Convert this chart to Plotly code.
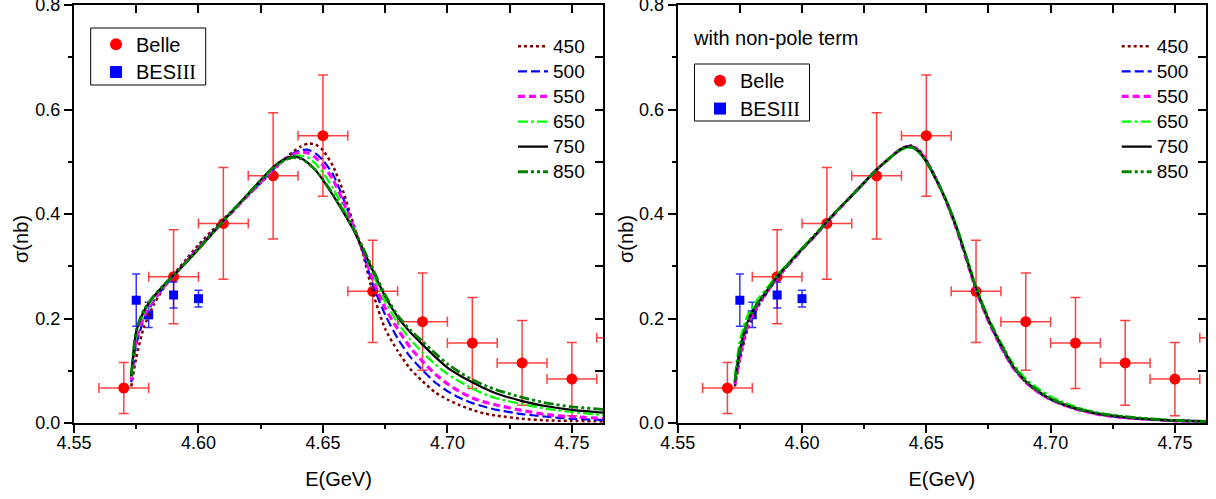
import plotly.graph_objects as go

# ---------------- data ----------------
belle_E = [4.57, 4.59, 4.61, 4.63, 4.65, 4.67, 4.69, 4.71, 4.73, 4.75, 4.77]
belle_sigma = [0.067, 0.280, 0.382, 0.473, 0.550, 0.252, 0.194, 0.153, 0.115, 0.084, 0.163]
belle_err = [0.049, 0.090, 0.107, 0.121, 0.116, 0.098, 0.093, 0.087, 0.081, 0.070, 0.090]
belle_Eerr = [0.01] * 11

bes_E = [4.575, 4.580, 4.590, 4.600]
bes_sigma = [0.235, 0.207, 0.245, 0.238]
bes_err = [0.050, 0.024, 0.025, 0.016]

E = [4.573, 4.575, 4.578, 4.582, 4.586, 4.590, 4.595, 4.600, 4.605, 4.610,
     4.615, 4.620, 4.625, 4.630, 4.635, 4.638, 4.641, 4.644, 4.647, 4.650,
     4.654, 4.658, 4.662, 4.666, 4.670, 4.675, 4.680, 4.685, 4.690, 4.695,
     4.700, 4.705, 4.710, 4.715, 4.720, 4.730, 4.740, 4.750, 4.7625]

labels = ["450", "500", "550", "650", "750", "850"]

# left panel (pole terms only)
L450 = [0.070, 0.125, 0.182, 0.226, 0.258, 0.284, 0.313, 0.341, 0.366, 0.390, 0.413, 0.436, 0.459, 0.484, 0.506, 0.519, 0.529, 0.535,
        0.533, 0.522, 0.492, 0.445, 0.385, 0.325, 0.250,
        0.180, 0.138, 0.104, 0.080, 0.059, 0.045, 0.034, 0.025, 0.018, 0.014, 0.008, 0.005, 0.004, 0.003]
L500 = [0.078, 0.150, 0.197, 0.233, 0.259, 0.282, 0.309, 0.336, 0.362, 0.387, 0.412, 0.436, 0.460, 0.485, 0.506, 0.516, 0.522, 0.523,
        0.516, 0.503, 0.476, 0.432, 0.380, 0.328, 0.265,
        0.207, 0.162, 0.127, 0.101, 0.078, 0.061, 0.048, 0.038, 0.031, 0.025, 0.017, 0.012, 0.008, 0.006]
L550 = [0.082, 0.160, 0.203, 0.236, 0.260, 0.282, 0.308, 0.334, 0.360, 0.386, 0.411, 0.436, 0.461, 0.486, 0.506, 0.514, 0.518, 0.517,
        0.508, 0.493, 0.466, 0.425, 0.378, 0.330, 0.275,
        0.220, 0.180, 0.145, 0.118, 0.094, 0.075, 0.060, 0.048, 0.040, 0.034, 0.024, 0.016, 0.012, 0.009]
L650 = [0.088, 0.170, 0.210, 0.240, 0.262, 0.283, 0.307, 0.333, 0.360, 0.386, 0.412, 0.438, 0.463, 0.488, 0.505, 0.511, 0.512, 0.508,
        0.496, 0.479, 0.450, 0.413, 0.375, 0.333, 0.287,
        0.232, 0.192, 0.160, 0.135, 0.113, 0.094, 0.079, 0.066, 0.055, 0.047, 0.036, 0.027, 0.021, 0.015]
L750 = [0.090, 0.175, 0.214, 0.242, 0.263, 0.283, 0.307, 0.333, 0.360, 0.387, 0.413, 0.439, 0.465, 0.490, 0.506, 0.510, 0.507, 0.498,
        0.484, 0.465, 0.436, 0.405, 0.372, 0.333, 0.292,
        0.242, 0.203, 0.174, 0.150, 0.127, 0.106, 0.091, 0.078, 0.066, 0.056, 0.042, 0.032, 0.025, 0.020]
L850 = [0.092, 0.178, 0.216, 0.243, 0.264, 0.283, 0.307, 0.333, 0.360, 0.387, 0.413, 0.439, 0.465, 0.489, 0.504, 0.508, 0.506, 0.497,
        0.484, 0.466, 0.438, 0.407, 0.374, 0.336, 0.295,
        0.245, 0.206, 0.178, 0.156, 0.134, 0.113, 0.097, 0.083, 0.072, 0.063, 0.049, 0.038, 0.031, 0.026]

# right panel (with non-pole term)
R450 = [0.070, 0.120, 0.178, 0.220, 0.250, 0.277, 0.306, 0.334, 0.360, 0.386, 0.411, 0.436, 0.460, 0.485, 0.506, 0.519, 0.528, 0.531,
        0.523, 0.504, 0.468, 0.426, 0.376, 0.317, 0.256,
        0.196, 0.147, 0.106, 0.078, 0.059, 0.045, 0.035, 0.027, 0.021, 0.016, 0.010, 0.007, 0.004, 0.003]
R500 = [0.073, 0.128, 0.184, 0.223, 0.251, 0.278, 0.305, 0.332, 0.357, 0.384, 0.410, 0.435, 0.460, 0.485, 0.506, 0.518, 0.527, 0.530,
        0.521, 0.502, 0.467, 0.425, 0.375, 0.316, 0.256,
        0.196, 0.147, 0.106, 0.078, 0.059, 0.045, 0.035, 0.027, 0.021, 0.016, 0.010, 0.007, 0.004, 0.003]
R550 = [0.074, 0.130, 0.186, 0.224, 0.252, 0.278, 0.305, 0.332, 0.357, 0.384, 0.410, 0.435, 0.460, 0.485, 0.506, 0.518, 0.527, 0.530,
        0.521, 0.502, 0.466, 0.424, 0.374, 0.315, 0.255,
        0.195, 0.146, 0.105, 0.078, 0.059, 0.045, 0.035, 0.027, 0.021, 0.016, 0.010, 0.007, 0.004, 0.003]
R650 = [0.090, 0.158, 0.205, 0.236, 0.259, 0.283, 0.309, 0.335, 0.360, 0.386, 0.411, 0.435, 0.460, 0.485, 0.505, 0.517, 0.525, 0.527,
        0.518, 0.500, 0.466, 0.427, 0.379, 0.322, 0.262,
        0.202, 0.154, 0.113, 0.085, 0.066, 0.051, 0.040, 0.031, 0.024, 0.019, 0.012, 0.008, 0.005, 0.003]
R750 = [0.078, 0.140, 0.192, 0.228, 0.254, 0.280, 0.307, 0.333, 0.358, 0.385, 0.411, 0.435, 0.460, 0.485, 0.506, 0.518, 0.527, 0.529,
        0.519, 0.500, 0.465, 0.425, 0.376, 0.318, 0.258,
        0.198, 0.150, 0.108, 0.080, 0.061, 0.046, 0.036, 0.028, 0.022, 0.017, 0.011, 0.007, 0.005, 0.003]
R850 = [0.080, 0.143, 0.194, 0.229, 0.255, 0.280, 0.307, 0.333, 0.358, 0.385, 0.411, 0.435, 0.460, 0.485, 0.506, 0.518, 0.526, 0.528,
        0.519, 0.500, 0.466, 0.426, 0.377, 0.319, 0.259,
        0.199, 0.151, 0.109, 0.081, 0.062, 0.047, 0.037, 0.029, 0.023, 0.018, 0.012, 0.008, 0.005, 0.003]

left_curves = [L450, L500, L550, L650, L750, L850]
right_curves = [R450, R500, R550, R650, R750, R850]

# ---------------- styles ----------------
curve_styles = [
    dict(color="#800000", width=2.5, dash="3px,3px"),
    dict(color="#0000FF", width=2.2, dash="9px,4px"),
    dict(color="#FF00FF", width=3.2, dash="7px,4px"),
    dict(color="#00FF00", width=2.2, dash="10px,3px,3px,3px"),
    dict(color="#000000", width=2.2, dash="solid"),
    dict(color="#008000", width=2.8, dash="10px,3px,3px,3px,3px,3px"),
]
FONT = "Liberation Sans, Arial, sans-serif"
SERIF = "Liberation Serif, Times New Roman, serif"
XR = [4.55, 4.7625]
YR = [0.0, 0.8]

W, H = 1216, 499
ML, MR, MT, MB = 74, 10, 5, 76
PW = W - ML - MR
PH = H - MT - MB
d1 = [0.0, (603 - ML) / PW]
d2 = [(677.7 - ML) / PW, 1.0]


def px_x(p):
    return (p - ML) / PW


def px_y(p):
    return (H - MB - p) / PH


fig = go.Figure()

panels = [("x", "y", "x3", "y3", "legend", "legend2", left_curves),
          ("x2", "y2", "x4", "y4", "legend3", "legend4", right_curves)]

for xa, ya, xt, yr, lg_pts, lg_lines, curves in panels:
    fig.add_trace(go.Scatter(
        x=belle_E, y=belle_sigma, mode="markers",
        name="<span style='font-size:20px'>Belle</span>",
        xaxis=xa, yaxis=ya, legend=lg_pts,
        marker=dict(symbol="circle", size=11, color="#FF0000"),
        error_y=dict(type="data", array=belle_err, color="rgba(255,0,0,0.75)", thickness=1.5, width=5),
        error_x=dict(type="data", array=belle_Eerr, color="rgba(255,0,0,0.75)", thickness=1.5, width=5),
    ))
    fig.add_trace(go.Scatter(
        x=bes_E, y=bes_sigma, mode="markers",
        name="<span style='font-size:20px'>BES<span style='font-family:" + SERIF + "'>III</span></span>",
        xaxis=xa, yaxis=ya, legend=lg_pts,
        marker=dict(symbol="square", size=9, color="#0000FF"),
        error_y=dict(type="data", array=bes_err, color="rgba(0,0,255,0.8)", thickness=1.5, width=4),
    ))
    for lab, yv, st in zip(labels, curves, curve_styles):
        fig.add_trace(go.Scatter(
            x=E, y=yv, mode="lines", name="<span style='font-size:19px'>" + lab + "</span>",
            xaxis=xa, yaxis=ya, legend=lg_lines,
            line=dict(color=st["color"], width=st["width"], dash=st["dash"], shape="spline", smoothing=0.6),
        ))
    # invisible helpers so the mirrored tick axes (top / right, ticks inside) get drawn
    fig.add_trace(go.Scatter(x=[None], y=[None], xaxis=xt, yaxis=ya, showlegend=False, hoverinfo="skip"))
    fig.add_trace(go.Scatter(x=[None], y=[None], xaxis=xa, yaxis=yr, showlegend=False, hoverinfo="skip"))


def main_x(domain, anchor):
    return dict(domain=domain, anchor=anchor, range=XR, automargin=False, showline=True, linewidth=2,
                linecolor="black", mirror=True, ticks="outside", ticklen=8, tickwidth=1.5, tickcolor="black",
                tick0=4.55, dtick=0.05, tickformat=".2f", showgrid=False, zeroline=False,
                ticklabeloverflow="allow", ticklabelstandoff=-6,
                minor=dict(ticks="outside", ticklen=4, tickwidth=1.5, tickcolor="black", tick0=4.55, dtick=0.025,
                           showgrid=False),
                tickfont=dict(size=18, color="black", family=FONT),
                title=dict(text="E(GeV)", font=dict(size=20, color="black", family=FONT), standoff=20))


def main_y(anchor):
    return dict(domain=[0, 1], anchor=anchor, range=YR, automargin=False, showline=True, linewidth=2,
                linecolor="black", mirror=True, ticks="outside", ticklen=8, tickwidth=1.5, tickcolor="black",
                tick0=0, dtick=0.2, tickformat=".1f", showgrid=False, zeroline=False,
                ticklabeloverflow="allow",
                minor=dict(ticks="outside", ticklen=4, tickwidth=1.5, tickcolor="black", tick0=0, dtick=0.1,
                           showgrid=False),
                tickfont=dict(size=18, color="black", family=FONT))


def top_x(over, anchor):
    return dict(overlaying=over, anchor=anchor, side="top", range=XR, automargin=False, ticks="inside",
                ticklen=8, tickwidth=1.5, tickcolor="black", tick0=4.55, dtick=0.025, showticklabels=False,
                showline=False, showgrid=False, zeroline=False)


def right_y(over, anchor):
    return dict(overlaying=over, anchor=anchor, side="right", range=YR, automargin=False, ticks="inside",
                ticklen=8, tickwidth=1.5, tickcolor="black", tick0=0, dtick=0.1, showticklabels=False,
                showline=False, showgrid=False, zeroline=False)


box_legend = dict(borderwidth=0, bgcolor="rgba(0,0,0,0)",
                  font=dict(size=19, color="black", family=FONT), xanchor="left", yanchor="top",
                  itemsizing="constant")
line_legend = dict(borderwidth=0, bgcolor="rgba(0,0,0,0)",
                   font=dict(size=17, color="black", family=FONT), xanchor="left", yanchor="top",
                   tracegroupgap=0)

off2 = (677.7 - ML) / PW

ytitle_font = dict(size=20, color="black", family=FONT)

fig.update_layout(
    width=W, height=H,
    margin=dict(l=ML, r=MR, t=MT, b=MB, autoexpand=False),
    paper_bgcolor="white", plot_bgcolor="white",
    font=dict(family=FONT, color="black"),
    showlegend=True,
    xaxis=main_x(d1, "y"), yaxis=main_y("x"),
    xaxis2=main_x(d2, "y2"), yaxis2=main_y("x2"),
    xaxis3=top_x("x", "y"), yaxis3=right_y("y", "x"),
    xaxis4=top_x("x2", "y2"), yaxis4=right_y("y2", "x2"),
    legend=dict(**box_legend, x=px_x(96), y=px_y(25.5)),
    legend2=dict(**line_legend, x=px_x(513), y=px_y(28.7)),
    legend3=dict(**box_legend, x=px_x(700), y=px_y(62)),
    legend4=dict(**line_legend, x=px_x(513) + off2, y=px_y(28.7)),
    shapes=[
        dict(type="rect", xref="paper", yref="paper", x0=px_x(90.7), x1=px_x(205.7), y0=px_y(85), y1=px_y(28),
             line=dict(color="black", width=1), fillcolor="white", layer="below"),
        dict(type="rect", xref="paper", yref="paper", x0=px_x(694.5), x1=px_x(809.5), y0=px_y(121), y1=px_y(64),
             line=dict(color="black", width=1), fillcolor="white", layer="below"),
    ],
    annotations=[
        dict(text="with non-pole term", xref="paper", yref="paper", x=px_x(691), y=px_y(38),
             xanchor="left", yanchor="middle", showarrow=False,
             font=dict(size=20, color="black", family=FONT)),
        dict(text="σ(nb)", xref="paper", yref="paper", x=px_x(21), y=px_y(239), textangle=-90,
             xanchor="center", yanchor="middle", showarrow=False, font=ytitle_font),
        dict(text="σ(nb)", xref="paper", yref="paper", x=px_x(626), y=px_y(239), textangle=-90,
             xanchor="center", yanchor="middle", showarrow=False, font=ytitle_font),
    ],
)

fig.write_html("out.html", config={"displayModeBar": False},
               post_script="document.body.style.margin='0px';document.body.style.padding='0px';")
